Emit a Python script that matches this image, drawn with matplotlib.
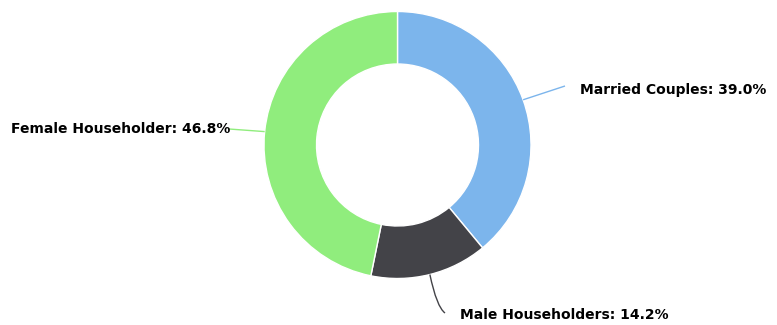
import numpy as np
import matplotlib.pyplot as plt
from matplotlib.path import Path
from matplotlib.patches import PathPatch

categories = ["Married Couples", "Male Householders", "Female Householder"]
shares = [39.0, 14.2, 46.8]
colors = ["#7cb5ec", "#434348", "#90ed7d"]

W, H = 777, 325
fig = plt.figure(figsize=(W / 100, H / 100), dpi=100)
ax = fig.add_axes([0, 0, 1, 1])
ax.set_xlim(0, W)
ax.set_ylim(0, H)
ax.set_aspect("equal")
ax.axis("off")

cx, cy = 397.5, H - 145
r_out, r_in = 133.5, 81

wedges, _ = ax.pie(shares, colors=colors, startangle=90, counterclock=False,
                   center=(cx, cy), radius=r_out,
                   wedgeprops=dict(width=r_out - r_in, edgecolor="white", linewidth=1))
ax.set_xlim(0, W)
ax.set_ylim(0, H)

# label anchor (pixel coords, y from top), text alignment, connector bend
label_pos = [(580, 90, "left", (565, 86)),
             (460, 315, "left", (445, 313)),
             (230, 129, "right", (229, 129))]

for w, name, val, col, (lx, ly, ha, end) in zip(wedges, categories, shares, colors, label_pos):
    mid = np.deg2rad((w.theta1 + w.theta2) / 2)
    px, py = cx + r_out * np.cos(mid), cy + r_out * np.sin(mid)
    ex, ey = end[0], H - end[1]
    if ha == "left" and ly > 200:
        ctrl = (px + (ex - px) * 0.45, ey + 6)
    else:
        ctrl = ((px + ex) / 2, (py + ey) / 2)
    path = Path([(px, py), ctrl, (ex, ey)], [Path.MOVETO, Path.CURVE3, Path.CURVE3])
    ax.add_patch(PathPatch(path, fill=False, edgecolor=col if col != "#434348" else "#434348",
                           linewidth=1))
    ax.text(lx, H - ly, f"{name}: {val:.1f}%", ha=ha, va="center",
            fontsize=10, fontweight="bold", color="black", family="DejaVu Sans")

fig.savefig("out.png", dpi=100)
